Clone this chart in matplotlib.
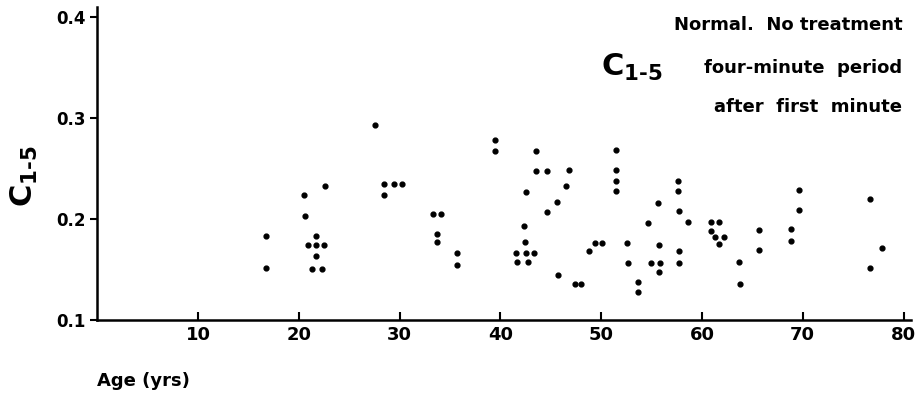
import matplotlib.pyplot as plt

age = [27.6, 22.6, 20.5, 20.6, 16.7, 16.75, 21.7, 20.9, 21.7, 22.5, 21.7, 21.3, 22.3,
       28.5, 29.4, 30.2, 28.5, 33.3, 34.1, 33.7, 33.7, 35.7, 35.7, 39.5, 39.5,
       43.5, 43.5, 44.6, 46.8, 46.5, 42.5, 45.6, 44.6, 42.3, 42.4, 41.6, 42.5, 43.3,
       41.7, 42.7, 45.7,
       51.5, 51.5, 51.5, 51.5, 57.6, 57.6, 57.7, 58.6, 55.6, 54.6, 49.4, 50.1, 48.8,
       52.6, 52.7, 47.4, 48.0, 53.7, 53.7, 55.7, 54.9, 55.8, 55.7, 57.7, 57.7,
       60.9, 61.7, 60.9, 61.3, 62.2, 61.7, 63.7, 63.8, 65.7, 65.7, 68.8, 68.8,
       69.6, 69.6, 76.7, 76.7, 77.9]
c15 = [0.293, 0.233, 0.224, 0.203, 0.183, 0.151, 0.183, 0.174, 0.174, 0.174, 0.163, 0.150, 0.150,
       0.235, 0.235, 0.235, 0.224, 0.205, 0.205, 0.185, 0.177, 0.166, 0.154, 0.278, 0.267,
       0.267, 0.247, 0.247, 0.248, 0.233, 0.227, 0.217, 0.207, 0.193, 0.177, 0.166, 0.166, 0.166,
       0.157, 0.157, 0.145,
       0.268, 0.248, 0.238, 0.228, 0.238, 0.228, 0.208, 0.197, 0.216, 0.196, 0.176, 0.176, 0.168,
       0.176, 0.156, 0.136, 0.136, 0.138, 0.128, 0.174, 0.156, 0.156, 0.148, 0.168, 0.156,
       0.197, 0.197, 0.188, 0.182, 0.182, 0.175, 0.157, 0.136, 0.189, 0.169, 0.190, 0.178,
       0.229, 0.209, 0.220, 0.151, 0.171]

plt.rcParams["font.weight"] = "bold"
fig = plt.figure(figsize=(9.17, 4.0), dpi=100)
ax = fig.add_axes([0.106, 0.2, 0.887, 0.783])
ax.scatter(age, c15, s=12, c="black", zorder=3)

ax.set_xlim(0, 80.7)
ax.set_ylim(0.1, 0.41)
ax.set_xticks([10, 20, 30, 40, 50, 60, 70, 80])
ax.set_yticks([0.1, 0.2, 0.3, 0.4])
ax.set_yticklabels(["0.1", "0.2", "0.3", "0.4"])
for s in ["top", "right"]:
    ax.spines[s].set_visible(False)
for s in ["left", "bottom"]:
    ax.spines[s].set_linewidth(1.8)
ax.tick_params(axis="x", direction="in", length=6, width=1.5, labelsize=13, pad=4)
ax.tick_params(axis="y", direction="out", length=5, width=1.5, labelsize=12)

ax.set_ylabel("$\\mathbf{C_{1\\text{-}5}}$", fontsize=22)
ax.yaxis.set_label_coords(-0.07, 0.46)
fig.text(0.106, 0.035, "Age (yrs)", fontsize=13, fontweight="bold")

ax.text(0.99, 0.97, "Normal.  No treatment", transform=ax.transAxes, ha="right", va="top",
        fontsize=13, fontweight="bold")
ax.text(0.62, 0.805, "$\\mathbf{C_{1\\text{-}5}}$", transform=ax.transAxes, ha="left", va="center",
        fontsize=22)
ax.text(0.99, 0.805, "four-minute  period", transform=ax.transAxes, ha="right", va="center",
        fontsize=13, fontweight="bold")
ax.text(0.99, 0.68, "after  first  minute", transform=ax.transAxes, ha="right", va="center",
        fontsize=13, fontweight="bold")

fig.savefig("out.png", dpi=100)
